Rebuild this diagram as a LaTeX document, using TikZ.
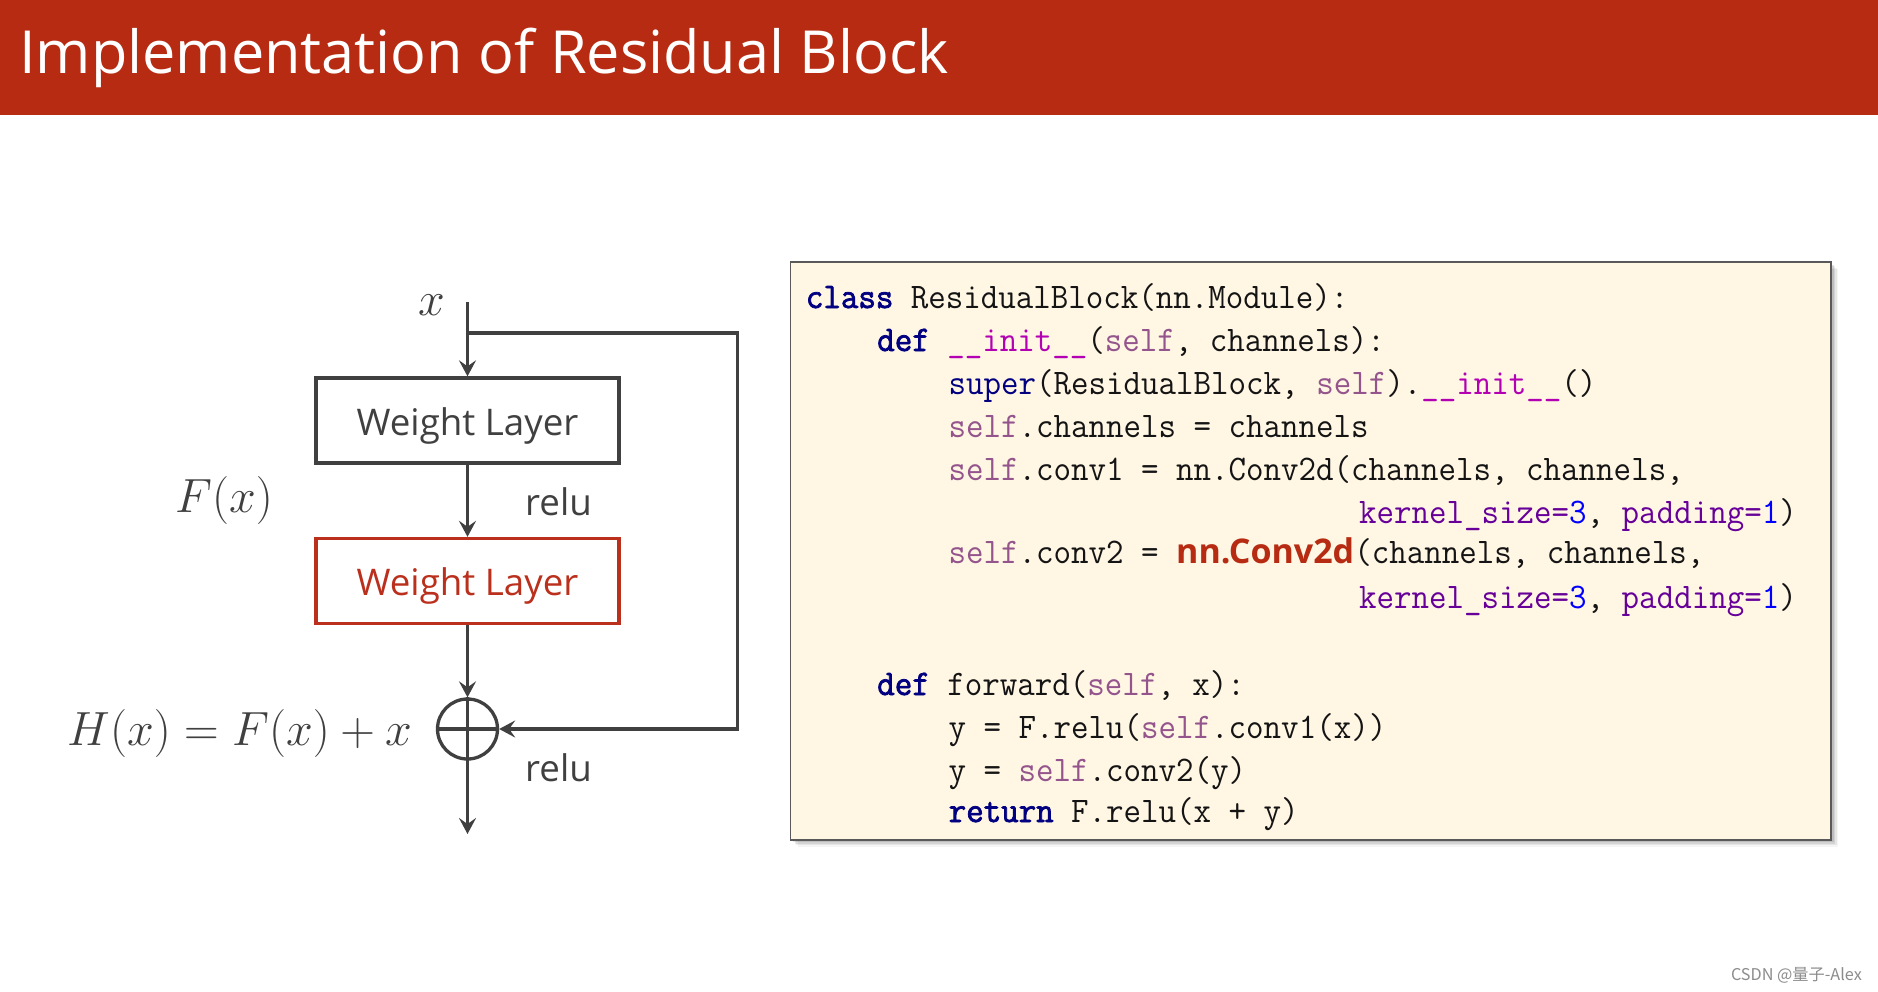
\RequirePackage{fix-cm}
\documentclass[tikz,border=0pt]{standalone}
\usepackage[no-math]{fontspec}
\setmainfont{Open Sans}
\newfontfamily\codefont[FakeStretch=0.944]{Latin Modern Mono}
\newfontfamily\codebf[FakeStretch=0.944,FakeBold=2]{Latin Modern Mono}
\newfontfamily\cjkfont{Noto Sans CJK SC}
\usetikzlibrary{arrows.meta}
\definecolor{titlered}{RGB}{182,43,17}
\definecolor{boxred}{RGB}{186,48,28}
\definecolor{dgray}{RGB}{64,64,64}
\definecolor{cream}{RGB}{255,246,228}
\definecolor{kwc}{RGB}{0,0,128}
\definecolor{selfc}{RGB}{148,85,141}
\definecolor{magicc}{RGB}{178,0,178}
\definecolor{paramc}{RGB}{102,0,153}
\definecolor{numc}{RGB}{0,0,255}
\definecolor{codetext}{RGB}{20,20,20}
\newcommand\kwd[1]{{\codebf\color{kwc}#1}}
\newcommand\slf[1]{\textcolor{selfc}{#1}}
\newcommand\mgc[1]{\textcolor{magicc}{#1}}
\newcommand\prm[1]{\textcolor{paramc}{#1}}
\newcommand\nmb[1]{\textcolor{numc}{#1}}
\newcommand\redconv{{\fontsize{34}{40}\rmfamily\bfseries\color{titlered}nn.Conv2d}}
\begin{document}
\begin{tikzpicture}[x=1pt,y=-1pt,
  wbox/.style={draw=dgray, text=dgray, line width=3.3pt, minimum width=303pt, minimum height=85pt, inner sep=0pt, text height=34pt, text depth=5pt, font=\fontsize{36.7}{40}\selectfont},
  conn/.style={draw=dgray, line width=3.2pt, -{Stealth[length=16pt,width=17pt,inset=6pt]}},
  plain/.style={draw=dgray, line width=3.2pt},
  mathlbl/.style={text=dgray, inner sep=0pt, anchor=base, font=\fontsize{48}{54}\selectfont},
  relulbl/.style={text=dgray, inner sep=0pt, anchor=base west, font=\fontsize{36.7}{40}\selectfont},
  codeln/.style={text=codetext, inner sep=0pt, anchor=base west, font=\fontsize{36}{40}\codefont}
]
\useasboundingbox (0,0) rectangle (1878,991);
\fill[white] (0,0) rectangle (1878,991);
% title bar
\fill[titlered] (0,0) rectangle (1878,115);
\node[anchor=base west, inner sep=0pt, text=white, font=\fontsize{59.4}{70}\selectfont] (title) at (19,73) {Implementation of Residual Block};

% diagram
\coordinate (xin) at (467.5,302);
\coordinate (split) at (467.5,333);
\coordinate (sr) at (737.5,333);
\coordinate (sb) at (737.5,729);
\coordinate (out) at (467.5,834);
\node[wbox] (w1) at (467.5,420.5) {Weight Layer};
\node[wbox, draw=boxred, text=boxred] (w2) at (467.5,581) {Weight Layer};
\node[circle, draw=dgray, line width=3.3pt, minimum size=60pt, inner sep=0pt] (sum) at (467.5,729) {};
\draw[plain] (sum.north) -- (sum.south);
\draw[plain] (sum.west) -- (sum.east);

\draw[conn] (xin) -- (w1.north);
\draw[conn, line join=miter] (split) -- (sr) -- (sb) -- (sum.east);
\draw[conn] (w1.south) -- (w2.north);
\draw[conn] (w2.south) -- (sum.north);
\draw[conn] (sum.south) -- (out);

\node[mathlbl] (xl) at (432,315) {$x$};
\node[mathlbl] (fx) at (224,512) {$F(x)$};
\node[mathlbl] (hx) at (240,745) {$H(x)=F(x)+x$};
\node[relulbl] (r1) at (525,515) {relu};
\node[relulbl] (r2) at (525,781) {relu};

% code box with shadow
\foreach \s/\o in {7/0.04,5.5/0.06,4/0.08,2.5/0.1}
  \fill[black, opacity=\o] (790.5+\s,262.3+\s) rectangle (1831+\s,839.6+\s);
\node[draw=black!65, line width=1.8pt, fill=cream, minimum width=1040.5pt, minimum height=577.3pt, inner sep=0pt] (code) at (1310.75,551) {};

\node[codeln] (c1) at (805.7,308) {\kwd{class} ResidualBlock(nn.Module):};
\node[codeln] (c2) at (877.1,351) {\kwd{def} \mgc{\_\_init\_\_}(\slf{self}, channels):};
\node[codeln] (c3) at (948.5,394) {\textcolor{kwc}{super}(ResidualBlock, \slf{self}).\mgc{\_\_init\_\_}()};
\node[codeln] (c4) at (948.5,437) {\slf{self}.channels = channels};
\node[codeln] (c5) at (948.5,480) {\slf{self}.conv1 = nn.Conv2d(channels, channels,};
\node[codeln] (c6) at (1359,523) {\prm{kernel\_size=}\nmb{3}, \prm{padding=}\nmb{1})};
\node[codeln] (c7) at (948.5,563) {\slf{self}.conv2 = \redconv(channels, channels,};
\node[codeln] (c8) at (1359,608) {\prm{kernel\_size=}\nmb{3}, \prm{padding=}\nmb{1})};
\node[codeln] (c9) at (877.1,695) {\kwd{def} forward(\slf{self}, x):};
\node[codeln] (c10) at (948.5,738) {y = F.relu(\slf{self}.conv1(x))};
\node[codeln] (c11) at (948.5,781) {y = \slf{self}.conv2(y)};
\node[codeln] (c12) at (948.5,822) {\kwd{return} F.relu(x + y)};

% watermark
\node[anchor=base east, inner sep=0pt, text=black!45, font=\fontsize{16.2}{19}\cjkfont] (wm) at (1862,980) {CSDN @量子-Alex};
\end{tikzpicture}
\end{document}
